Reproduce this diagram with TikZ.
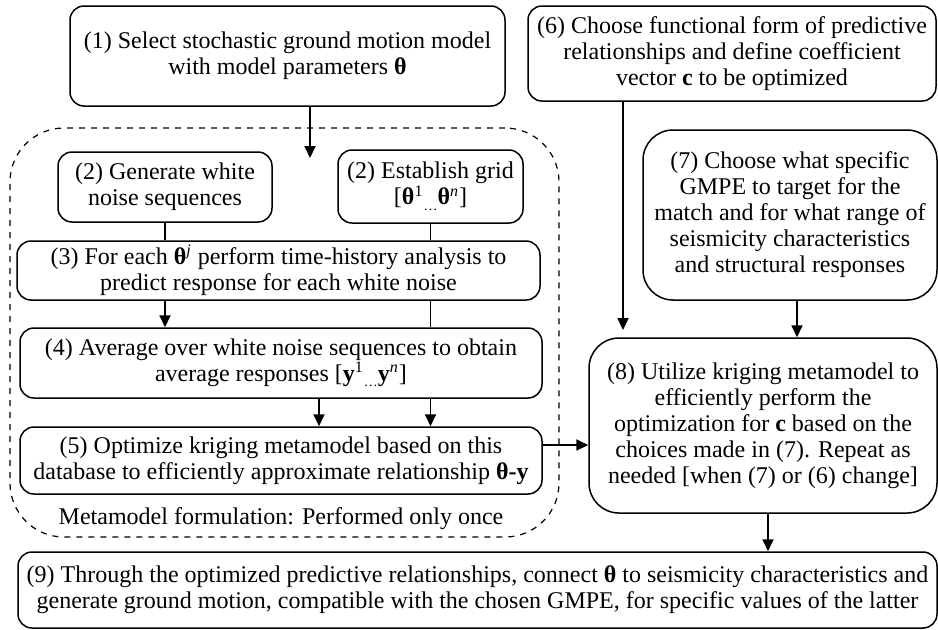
\documentclass[tikz,border=0pt]{standalone}
\usepackage{fontspec}
\setmainfont{Liberation Serif}
\usetikzlibrary{arrows.meta}
\newcommand\fs{\fontsize{12}{13}\selectfont}
\newcommand\bth{\textbf{θ}}
\begin{document}
\begin{tikzpicture}[x=0.5pt,y=-0.5pt,
  box/.style={draw, line width=0.75pt, rounded corners=7pt, align=center, inner sep=0pt, font=\fs},
  bigbox/.style={box, rounded corners=15pt},
  arr/.style={-{Triangle[length=6pt,width=5.5pt]}, line width=0.9pt},
  link/.style={line width=0.9pt}]
\useasboundingbox (0,0) rectangle (938,629);
% dashed metamodel region
\node[draw, dashed, line width=0.6pt, rounded corners=27pt, minimum width=274.5pt, minimum height=204.5pt, inner sep=0pt] (meta) at (284.5,332.5) {};
\node[font=\fs] (metalabel) at (281,519) {Metamodel formulation: Performed only once};
% boxes
\node[box, minimum width=217.5pt, minimum height=50pt] (n1) at (287.5,56) {(1) Select stochastic ground motion model\\with model parameters \bth};
\node[box, minimum width=204pt, minimum height=47.5pt] (n6) at (732,53.5) {(6) Choose functional form of predictive\\relationships and define coefficient\\vector \textbf{c} to be optimized};
\node[box, minimum width=107pt, minimum height=35pt] (n2a) at (165,187) {(2) Generate white\\noise sequences};
\node[box, minimum width=92.5pt, minimum height=36.5pt] (n2b) at (430.5,186.5) {(2) Establish grid\\{}[\bth\textsuperscript{1}\raisebox{-0.5ex}{\scriptsize …}\bth\textsuperscript{\textit{n}}]};
\node[box, minimum width=261.5pt, minimum height=29.5pt] (n3) at (278.5,270.5) {(3) For each \bth\textsuperscript{\textit{j}} perform time-history analysis to\\predict response for each white noise};
\node[box, minimum width=261pt, minimum height=35pt] (n4) at (281,363) {(4) Average over white noise sequences to obtain\\average responses [\textbf{y}\textsuperscript{1}\raisebox{-0.5ex}{\scriptsize …}\textbf{y}\textsuperscript{\textit{n}}]};
\node[box, minimum width=261pt, minimum height=33.5pt] (n5) at (281,460.5) {(5) Optimize kriging metamodel based on this\\database to efficiently approximate relationship \textbf{θ-y}};
\node[bigbox, minimum width=147pt, minimum height=85pt] (n7) at (790,215) {(7) Choose what specific\\GMPE to target for the\\match and for what range of\\seismicity characteristics\\and structural responses};
\node[bigbox, minimum width=174pt, minimum height=87.5pt] (n8) at (763,425.5) {(8) Utilize kriging metamodel to\\efficiently perform the\\optimization for \textbf{c} based on the\\choices made in (7). Repeat as\\needed [when (7) or (6) change]};
\node[box, minimum width=459.5pt, minimum height=38pt] (n9) at (477.5,590) {(9) Through the optimized predictive relationships, connect \bth\ to seismicity characteristics and\\generate ground motion, compatible with the chosen GMPE, for specific values of the latter};
% free ends
\coordinate (t1) at (310,158);
\coordinate (t6) at (623,330);
\coordinate (y5) at (0,445);
% connectors
\draw[arr] (n1.south -| t1) -- (t1);
\draw[link] (n2a.south) -- (n2a.south |- n3.north);
\draw[link] (n2b.south) -- (n2b.south |- n3.north);
\draw[arr] (n3.south -| n2a.south) -- (n4.north -| n2a.south);
\draw[link] (n3.south -| n2b.south) -- (n4.north -| n2b.south);
\coordinate (x4a) at (319,0);
\draw[arr] (n4.south -| x4a) -- (n5.north -| x4a);
\draw[arr] (n4.south -| n2b.south) -- (n5.north -| n2b.south);
\draw[arr] (n5.east |- y5) -- (n8.west |- y5);
\draw[arr] (n6.south -| t6) -- (t6);
\coordinate (x7) at (797,0);
\draw[arr] (n7.south -| x7) -- (n8.north -| x7);
\coordinate (x8) at (768,0);
\draw[arr] (n8.south -| x8) -- (n9.north -| x8);
\end{tikzpicture}
\end{document}
